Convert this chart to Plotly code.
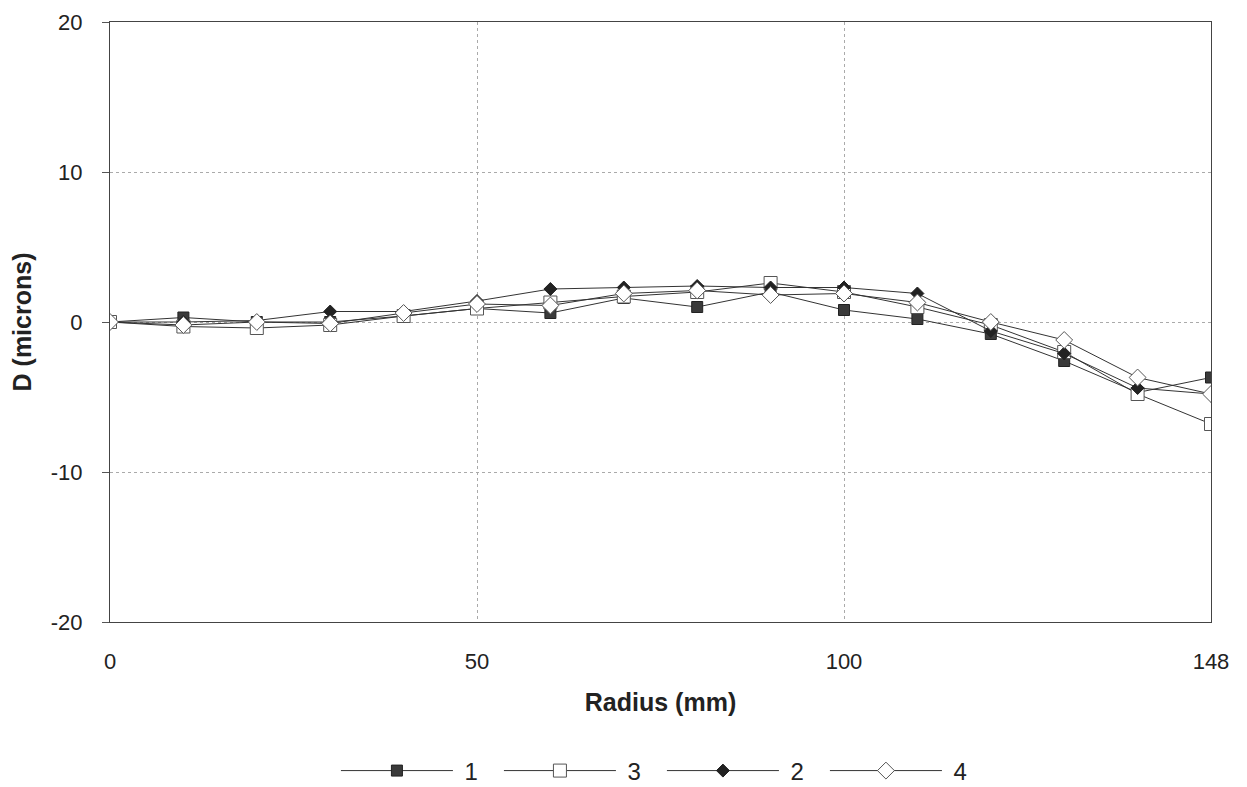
import plotly.graph_objects as go

radius = ["0", "10", "20", "30", "40", "50", "60", "70", "80", "90", "100", "110", "120", "130", "140", "148"]
x_ticks = ["0", "50", "100", "148"]
y_ticks = [-20, -10, 0, 10, 20]
y_tick_text = ["-20", "-10", "0", "10", "20"]
series_names = ["1", "3", "2", "4"]

s1 = [0, 0.3, 0.0, 0.0, 0.4, 0.9, 0.6, 1.6, 1.0, 2.0, 0.8, 0.2, -0.8, -2.6, -4.7, -3.7]
s3 = [0, -0.3, -0.4, -0.2, 0.4, 0.9, 1.3, 1.7, 2.0, 2.6, 2.0, 1.0, -0.2, -2.0, -4.8, -6.8]
s2 = [0, 0.0, 0.1, 0.7, 0.7, 1.4, 2.2, 2.3, 2.4, 2.3, 2.3, 1.9, -0.6, -2.1, -4.4, -4.8]
s4 = [0, -0.2, 0.0, -0.1, 0.6, 1.2, 1.1, 1.9, 2.1, 1.8, 1.9, 1.3, 0.0, -1.2, -3.7, -4.8]

markers = [
    dict(symbol="square", size=11, color="#3a3a3a", line=dict(color="#222", width=1)),
    dict(symbol="square", size=13, color="white", line=dict(color="#555", width=1)),
    dict(symbol="diamond", size=10, color="#222", line=dict(color="#222", width=1)),
    dict(symbol="diamond", size=13, color="white", line=dict(color="#555", width=1)),
]

fig = go.Figure()
for name, ys, mk in zip(series_names, [s1, s3, s2, s4], markers):
    fig.add_trace(go.Scatter(
        x=radius, y=ys, name="\u00a0" + name, mode="lines+markers",
        line=dict(color="#333", width=1), marker=mk,
    ))

font_family = "Liberation Sans, Arial, sans-serif"
fig.update_layout(
    width=1239, height=779,
    paper_bgcolor="white", plot_bgcolor="white",
    margin=dict(l=102, r=36, t=14, b=165, autoexpand=False),
    font=dict(family=font_family, size=22, color="#222"),
    showlegend=True,
    legend=dict(orientation="h", x=0.2052, xanchor="left", y=-0.2483, yanchor="middle",
                font=dict(size=24), itemwidth=112, entrywidth=36, entrywidthmode="pixels",
                traceorder="normal", bgcolor="rgba(0,0,0,0)"),
    xaxis=dict(
        type="category", range=[0, 15],
        tickmode="array", tickvals=x_ticks, ticktext=x_ticks,
        showgrid=True, gridcolor="#aaa", griddash="dot", gridwidth=1,
        showline=True, linecolor="#444", linewidth=1, mirror=True,
        ticks="", zeroline=False, ticklabelstandoff=20,
        title=dict(text="<b>Radius (mm)</b>", font=dict(size=25), standoff=20),
        tickfont=dict(size=22), automargin=False,
    ),
    yaxis=dict(
        range=[-20, 20], tickmode="array", tickvals=y_ticks, ticktext=y_tick_text,
        showgrid=True, gridcolor="#aaa", griddash="dot", gridwidth=1,
        showline=True, linecolor="#444", linewidth=1, mirror=True,
        ticks="outside", ticklen=7, tickcolor="#555", zeroline=False,
        ticklabelstandoff=15,
        title=dict(text="<b>D (microns)</b>", font=dict(size=25), standoff=22),
        tickfont=dict(size=22), automargin=False,
    ),
)

fig.write_html("out.html")
